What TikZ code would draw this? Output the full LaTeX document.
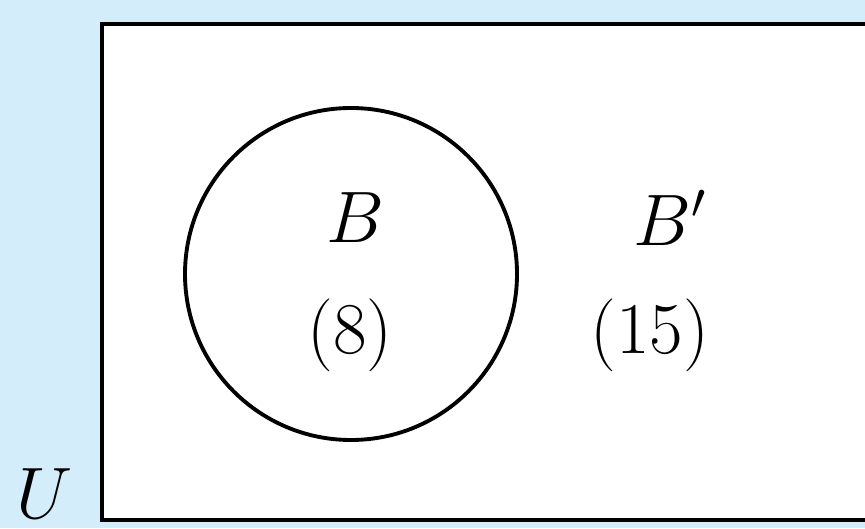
\documentclass[tikz,border=0pt]{standalone}
\usepackage{amsmath,amssymb}
\usepackage{tikz}

\definecolor{skyback}{HTML}{D3EEFA}

\begin{document}
\begin{tikzpicture}[
  x=0.01cm, y=-0.01cm,
  every node/.style={font=\fontsize{21}{25}\selectfont, inner sep=0pt},
  frame/.style={draw, line width=1.2pt, fill=white},
  setline/.style={draw, line width=1.1pt}
]
\useasboundingbox (0,0) rectangle (865,528);
\fill[skyback] (0,0) rectangle (865,528);
\node (univ) at (45,494) {$U$};
\begin{scope}
  \clip (0,0) rectangle (865,528);
  \path[frame] (102,24) rectangle (900,520);
\end{scope}
\path[setline] (351,274) circle (166);
\node (setB)    at (355,218) {$B$};
\node (countB)  at (350,335) {$(8)$};
\node (setBc)   at (670,218) {$B'$};
\node (countBc) at (650,335) {$(15)$};
\end{tikzpicture}
\end{document}
